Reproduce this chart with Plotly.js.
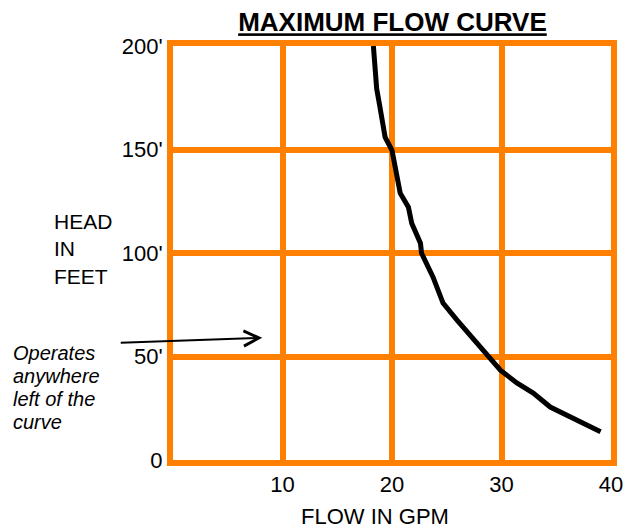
<!DOCTYPE html>
<html>
<head>
<meta charset="utf-8">
<script src="https://cdn.plot.ly/plotly-3.0.1.min.js"></script>
<style>html,body{margin:0;padding:0;background:#fff;}#chart{width:631px;height:529px;}</style>
</head>
<body>
<div id="chart"></div>
<script>
// Flow (GPM) vs head (feet)
var flowGpm = [18.3, 18.46, 18.6, 18.9, 19.37, 20.0, 20.75, 21.5, 21.8, 22.6, 22.7, 23.75, 24.66, 25.94, 27.77, 29.9, 31.4, 32.9, 34.45, 36.9, 39.05];
var headFeet = [200, 191.6, 179.4, 170.5, 156, 149.6, 128.9, 122.1, 114.4, 104.7, 99.9, 88.3, 75.8, 67.6, 56.5, 43.4, 37.2, 32.3, 25.6, 19.3, 13.7];
var xTickVals = [10, 20, 30, 40];
var xTickText = ["10", "20", "30", "40"];
var yTickVals = [0, 50, 100, 150, 200];
var yTickText = ["0", "50'", "100'", "150'", "200'"];
var headLines = ["HEAD", "IN", "FEET"];
var noteLines = ["Operates", "anywhere", "left of the", "curve"];

var orange = "#FF8000";
var font = "Liberation Sans, Arial, sans-serif";

var trace = {
  x: flowGpm, y: headFeet, type: "scatter", mode: "lines",
  line: {color: "#000", width: 5}, cliponaxis: false, hoverinfo: "skip"
};

var annotations = [
  {text: "FLOW IN GPM", xref: "paper", yref: "paper", x: 0.462, y: -0.1355, xanchor: "center", yanchor: "middle", showarrow: false, font: {family: font, size: 22, color: "#000"}},
  {text: "", x: 8.15, y: 59, xref: "x", yref: "y", ax: -143, ay: 5, showarrow: true, arrowhead: 5, arrowsize: 1.5, arrowwidth: 2, arrowcolor: "#000"},
  {text: headLines.join("<br>"), xref: "paper", yref: "paper", x: -0.277, y: 0.5097, xanchor: "left", yanchor: "middle", align: "left", showarrow: false, font: {family: font, size: 21, color: "#000"}}
];
var noteY = [0.2585, 0.2029, 0.1473, 0.0918];
noteLines.forEach(function (t, i) {
  annotations.push({text: "<i>" + t + "</i>", xref: "paper", yref: "paper", x: -0.371, y: noteY[i], xanchor: "left", yanchor: "middle", showarrow: false, font: {family: font, size: 20, color: "#000"}});
});

var layout = {
  width: 631, height: 529,
  margin: {l: 173, r: 20, t: 46, b: 69, pad: 0},
  paper_bgcolor: "#fff", plot_bgcolor: "#fff",
  showlegend: false,
  font: {family: font, size: 22, color: "#000"},
  title: {text: "<b><u>MAXIMUM FLOW CURVE</u></b>", font: {family: font, size: 26, color: "#000"}, x: 0.622, xanchor: "center", y: 0.958, yanchor: "middle"},
  xaxis: {
    range: [0, 40], tickvals: xTickVals, ticktext: xTickText,
    showgrid: true, gridcolor: orange, gridwidth: 6,
    showline: true, linecolor: orange, linewidth: 6, mirror: true,
    zeroline: false, ticks: "", layer: "below traces",
    tickfont: {family: font, size: 22, color: "#000"}, fixedrange: true
  },
  yaxis: {
    range: [0, 200], tickvals: yTickVals, ticktext: yTickText,
    showgrid: true, gridcolor: orange, gridwidth: 6,
    showline: true, linecolor: orange, linewidth: 6, mirror: true,
    zeroline: false, ticks: "", layer: "below traces",
    tickfont: {family: font, size: 22, color: "#000"}, fixedrange: true
  },
  annotations: annotations
};

Plotly.newPlot("chart", [trace], layout, {displayModeBar: false, staticPlot: true});
</script>
</body>
</html>
